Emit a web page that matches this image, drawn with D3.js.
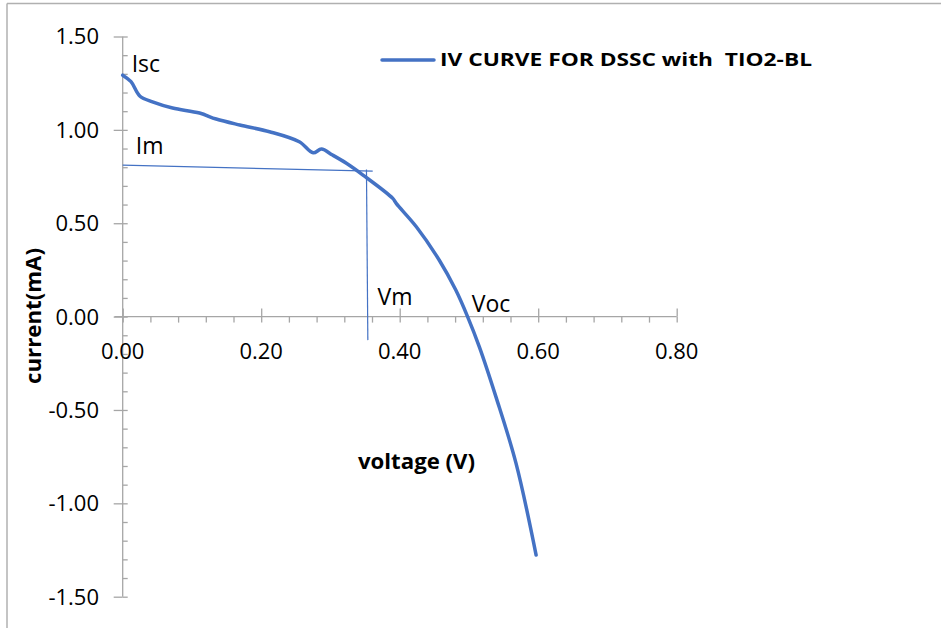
<!DOCTYPE html>
<html>
<head>
<meta charset="utf-8">
<script src="https://cdn.jsdelivr.net/npm/d3@7"></script>
<style>
  html, body { margin: 0; padding: 0; background: #fff; }
  svg { display: block; }
  text { font-family: "Open Sans", "Noto Sans", sans-serif; fill: #000; }
</style>
</head>
<body>
<svg id="chart" width="941" height="628"></svg>
<script>
// ---- data ----
const voltage = [0, 0.012, 0.025, 0.043, 0.072, 0.111, 0.135, 0.169, 0.212, 0.255, 0.275, 0.287, 0.303, 0.323, 0.347, 0.390, 0.395, 0.424, 0.457, 0.481, 0.498, 0.515, 0.539, 0.568, 0.597];
const current = [1.293, 1.258, 1.180, 1.150, 1.117, 1.090, 1.058, 1.026, 0.990, 0.936, 0.877, 0.897, 0.865, 0.821, 0.758, 0.633, 0.606, 0.481, 0.303, 0.142, 0.0, -0.162, -0.430, -0.786, -1.277];
const imLineV = [0, 0.361];
const imLineI = [0.811, 0.779];
const vmLineV = [0.352, 0.354];
const vmLineI = [0.788, -0.126];
const xTicks = [0, 0.2, 0.4, 0.6, 0.8];
const xTickLabels = ["0.00", "0.20", "0.40", "0.60", "0.80"];
const yTicks = [1.5, 1.0, 0.5, 0, -0.5, -1.0, -1.5];
const yTickLabels = ["1.50", "1.00", "0.50", "0.00", "-0.50", "-1.00", "-1.50"];
const annLabels = ["Isc", "Im", "Vm", "Voc"];
const annV = [0.013, 0.019, 0.368, 0.504];
const annI = [1.312, 0.870, 0.060, 0.025];
const seriesName = "IV CURVE FOR DSSC with\u00a0 TIO2-BL";
const xTitle = "voltage (V)";
const yTitle = "current(mA)";

// ---- layout ----
const svg = d3.select("#chart");
const color = "#4472C4";
const axisColor = "#A6A6A6";
const x = d3.scaleLinear().domain([0, 0.8]).range([122.7, 676.7]);
const y = d3.scaleLinear().domain([-1.5, 1.5]).range([596.7, 36.5]);

// frame
svg.append("line").attr("x1", 7).attr("x2", 941).attr("y1", 3.5).attr("y2", 3.5)
  .attr("stroke", "#B0B0B0").attr("stroke-width", 1.5);
svg.append("line").attr("x1", 7).attr("x2", 7).attr("y1", 3.5).attr("y2", 628)
  .attr("stroke", "#B0B0B0").attr("stroke-width", 1.5);

// minor ticks
const xMinor = d3.range(0, 0.8001, 0.04).filter(v => !xTicks.some(t => Math.abs(t - v) < 1e-6));
const yMinor = d3.range(-1.5, 1.5001, 0.1).filter(v => !yTicks.some(t => Math.abs(t - v) < 1e-6));

const gx = svg.append("g").attr("transform", `translate(0,${y(0)})`);
gx.call(d3.axisBottom(x).tickValues(xMinor).tickSize(6).tickFormat(""));
gx.append("g").call(d3.axisBottom(x).tickValues(xTicks).tickSize(6).tickSizeOuter(0).tickFormat(""));
gx.append("g").call(d3.axisTop(x).tickValues(xTicks).tickSize(8).tickSizeOuter(0).tickFormat(""));
gx.selectAll("path.domain").remove();
gx.append("line").attr("x1", 114.5).attr("x2", x(0.8)).attr("y1", 0).attr("y2", 0);
gx.selectAll("line").attr("stroke", axisColor).attr("stroke-width", 1.3);

const gy = svg.append("g").attr("transform", `translate(${x(0)},0)`);
gy.call(d3.axisRight(y).tickValues(yMinor).tickSize(5).tickFormat(""));
gy.append("g").call(d3.axisRight(y).tickValues(yTicks).tickSize(5).tickSizeOuter(0).tickFormat(""));
gy.append("g").call(d3.axisLeft(y).tickValues(yTicks).tickSize(9).tickSizeOuter(0).tickFormat(""));
gy.selectAll("path.domain").remove();
gy.append("line").attr("x1", 0).attr("x2", 0).attr("y1", y(1.5)).attr("y2", y(-1.5));
gy.selectAll("line").attr("stroke", axisColor).attr("stroke-width", 1.3);

// tick labels
svg.append("g").selectAll("text").data(xTicks).join("text")
  .attr("x", d => x(d)).attr("y", 358.5)
  .attr("text-anchor", "middle").attr("font-size", 22)
  .text((d, i) => xTickLabels[i]);
svg.append("g").selectAll("text").data(yTicks).join("text")
  .attr("x", 99).attr("y", d => y(d)).attr("dy", "0.36em")
  .attr("text-anchor", "end").attr("font-size", 22)
  .text((d, i) => yTickLabels[i]);

// axis titles
svg.append("text").attr("x", 416.5).attr("y", 469).attr("text-anchor", "middle")
  .attr("font-size", 21).attr("font-weight", "bold")
  .attr("textLength", 117).attr("lengthAdjust", "spacingAndGlyphs").text(xTitle);
svg.append("text").attr("transform", "translate(41,316) rotate(-90)").attr("text-anchor", "middle")
  .attr("font-size", 21).attr("font-weight", "bold")
  .attr("textLength", 136).attr("lengthAdjust", "spacingAndGlyphs").text(yTitle);

// helper lines Im / Vm
const line = d3.line().x(d => x(d[0])).y(d => y(d[1]));
svg.append("path").datum(imLineV.map((v, i) => [v, imLineI[i]]))
  .attr("d", line).attr("fill", "none").attr("stroke", color).attr("stroke-width", 1.2);
svg.append("path").datum(vmLineV.map((v, i) => [v, vmLineI[i]]))
  .attr("d", line).attr("fill", "none").attr("stroke", color).attr("stroke-width", 1.2);

// main curve
const smooth = d3.line().x(d => x(d[0])).y(d => y(d[1])).curve(d3.curveCatmullRom.alpha(0.5));
svg.append("path").datum(voltage.map((v, i) => [v, current[i]]))
  .attr("d", smooth).attr("fill", "none").attr("stroke", color)
  .attr("stroke-width", 3.5).attr("stroke-linejoin", "round").attr("stroke-linecap", "round");

// annotations
svg.append("g").selectAll("text").data(annLabels).join("text")
  .attr("x", (d, i) => x(annV[i])).attr("y", (d, i) => y(annI[i]))
  .attr("font-size", 23).text(d => d);

// legend
svg.append("line").attr("x1", 382).attr("x2", 434).attr("y1", 60).attr("y2", 60)
  .attr("stroke", color).attr("stroke-width", 3.5).attr("stroke-linecap", "round");
svg.append("text").attr("x", 440).attr("y", 60).attr("dy", "0.35em")
  .attr("font-size", 18).attr("font-weight", "bold")
  .attr("textLength", 372).attr("lengthAdjust", "spacingAndGlyphs")
  .text(seriesName);
</script>
</body>
</html>
